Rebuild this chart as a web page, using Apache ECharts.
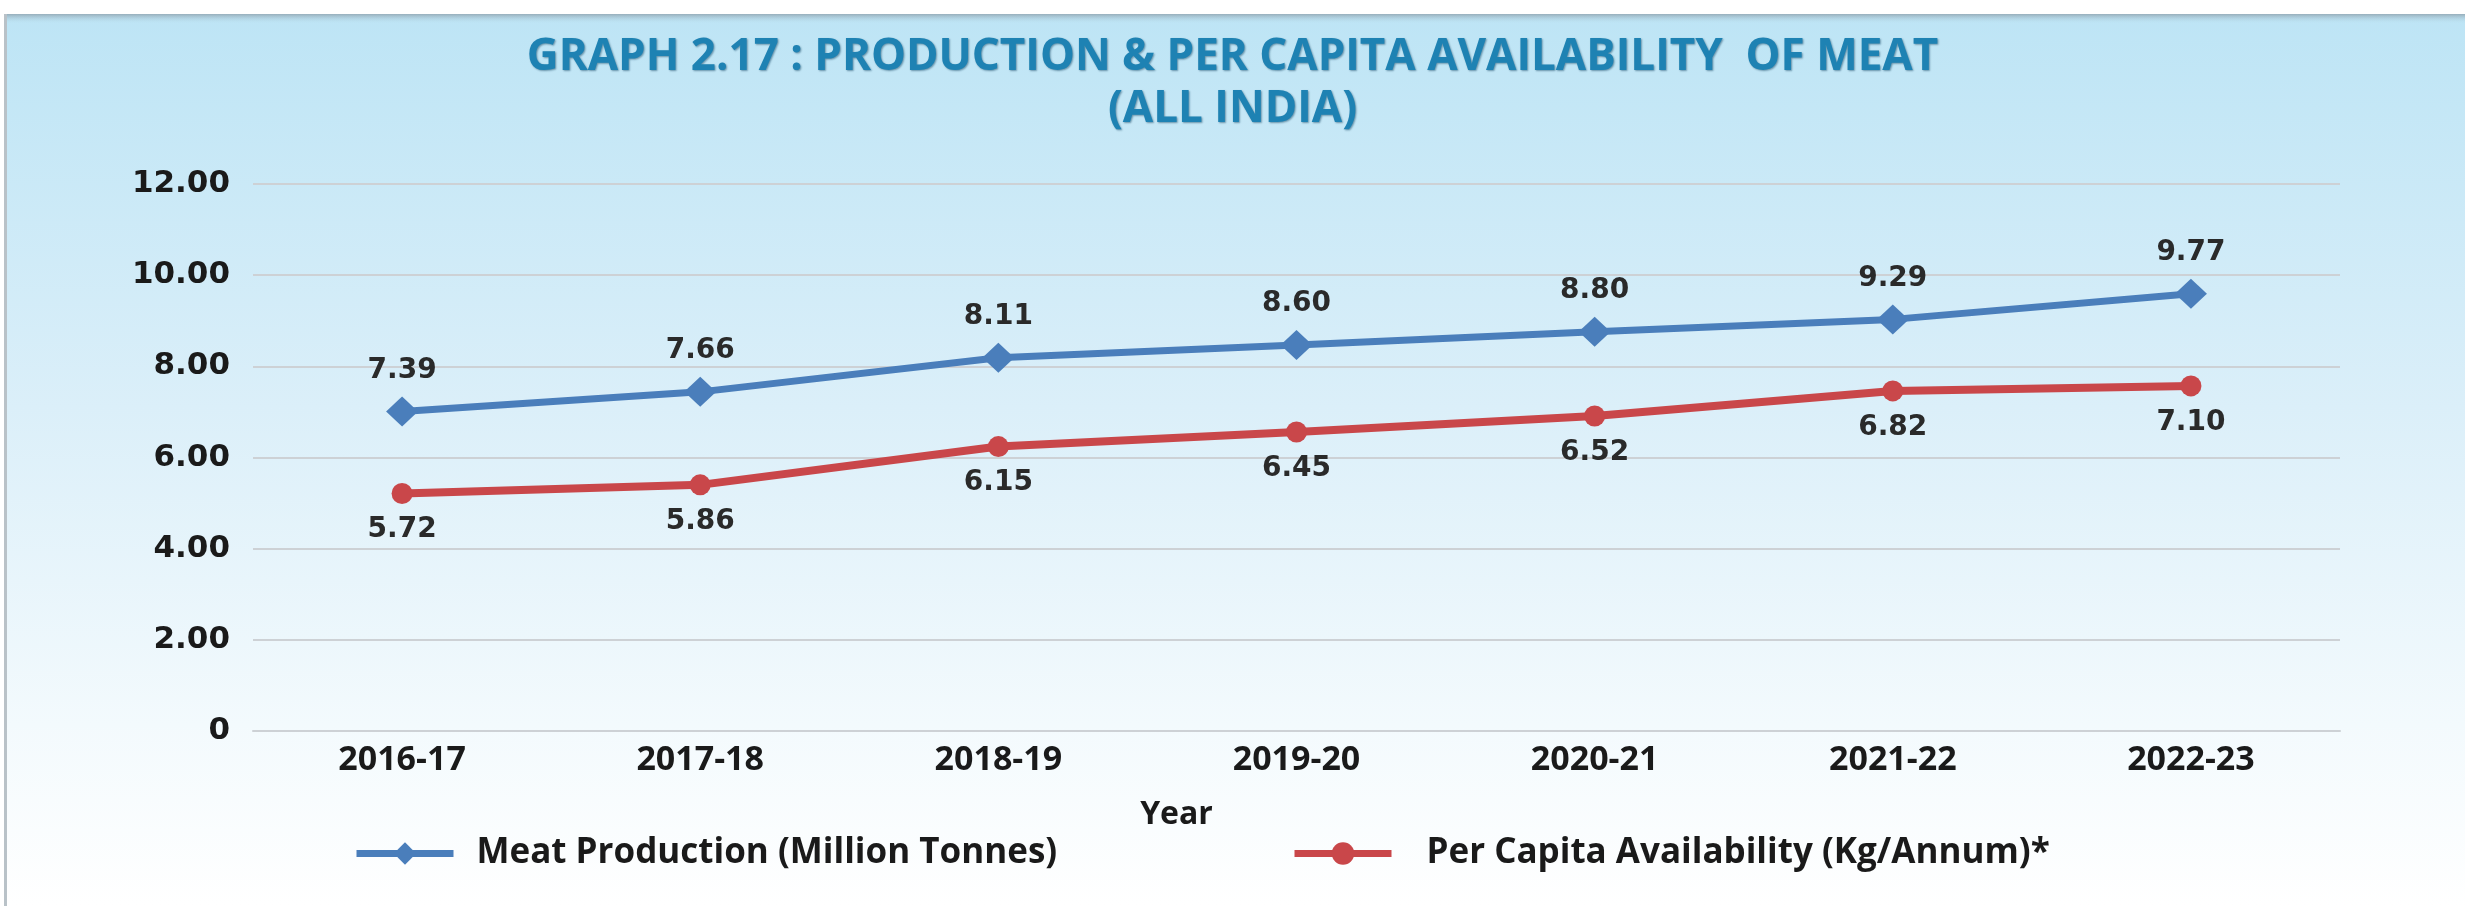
<!DOCTYPE html>
<html>
<head>
<meta charset="utf-8">
<script src="https://cdn.jsdelivr.net/npm/echarts@6/dist/echarts.min.js"></script>
<style>
html,body{margin:0;padding:0;background:#ffffff;}
#chart{width:2465px;height:906px;}
</style>
</head>
<body>
<div id="chart"></div>
<script>
// Categories (years)
const years = ['2016-17','2017-18','2018-19','2019-20','2020-21','2021-22','2022-23'];
// Plotted positions as drawn in the picture
const meatProduction = [7.01, 7.44, 8.19, 8.47, 8.76, 9.03, 9.59];
const perCapita = [5.21, 5.40, 6.24, 6.56, 6.91, 7.46, 7.57];
// Data label texts printed on the picture
const meatProductionLabels = ['7.39','7.66','8.11','8.60','8.80','9.29','9.77'];
const perCapitaLabels = ['5.72','5.86','6.15','6.45','6.52','6.82','7.10'];
// Y tick labels
const yTicks = ['0','2.00','4.00','6.00','8.00','10.00','12.00'];
const seriesNames = ['Meat Production (Million Tonnes)', 'Per Capita Availability (Kg/Annum)*'];

const chart = echarts.init(document.getElementById('chart'), null, {renderer:'canvas'});
const option = {
  backgroundColor: {
    type:'linear', x:0, y:0, x2:0, y2:1,
    colorStops:[
      {offset:0, color:'#bce4f5'},
      {offset:0.45, color:'#dbeff9'},
      {offset:0.8, color:'#f3fafd'},
      {offset:1, color:'#ffffff'}
    ]
  },
  graphic: [
    {type:'rect', left:0, top:0, shape:{width:2465, height:14}, style:{fill:'#ffffff'}, z:-1},
    {type:'rect', left:0, top:14, shape:{width:2465, height:10},
      style:{fill:{type:'linear',x:0,y:0,x2:0,y2:1,colorStops:[{offset:0,color:'rgba(120,130,140,0.55)'},{offset:1,color:'rgba(190,229,245,0)'}]}}, z:-1},
    {type:'rect', left:4, top:14, shape:{width:3, height:892}, style:{fill:'#b9c2c8'}, z:-1},
    {type:'rect', left:0, top:0, shape:{width:4, height:906}, style:{fill:'#ffffff'}, z:-1}
  ],
  title: {
    text: 'GRAPH 2.17 : PRODUCTION & PER CAPITA AVAILABILITY  OF MEAT\n(ALL INDIA)',
    left: 'center',
    top: 26,
    textStyle: {
      fontFamily: 'Open Sans',
      fontWeight: 'bold',
      fontSize: 44,
      lineHeight: 52,
      color: '#1e82b3',
      textShadowColor: 'rgba(10,60,90,0.5)',
      textShadowBlur: 2,
      textShadowOffsetX: 1,
      textShadowOffsetY: 1
    }
  },
  legend: [
    {
      data: [seriesNames[0]],
      left: 348, top: 831,
      itemWidth: 97, itemHeight: 28,
      lineStyle: {width: 7},
      textStyle: {fontFamily:'Open Sans', fontWeight:'bold', fontSize:35, color:'#1a1a1a', padding:[0,0,0,18]}
    },
    {
      data: [seriesNames[1]],
      left: 1286, top: 831,
      itemWidth: 97, itemHeight: 28,
      lineStyle: {width: 7},
      textStyle: {fontFamily:'Open Sans', fontWeight:'bold', fontSize:35, color:'#1a1a1a', padding:[0,0,0,30]}
    }
  ],
  grid: {left: 253, right: 125, top: 184, bottom: 906-731, containLabel:false},
  xAxis: {
    type: 'category',
    data: years,
    boundaryGap: true,
    axisLine: {show: true, lineStyle: {color:'#cdd1d5', width: 2}},
    axisTick: {show:false},
    axisLabel: {fontFamily:'Open Sans', fontWeight:'bold', fontSize:34, color:'#1a1a1a', margin:12},
    name: 'Year',
    nameLocation: 'middle',
    nameGap: 68,
    nameTextStyle: {fontFamily:'Open Sans', fontWeight:'bold', fontSize:32, color:'#1a1a1a', padding:[0,240,0,0]}
  },
  yAxis: {
    type: 'value',
    min: 0, max: 12, interval: 2,
    axisLine: {show:false},
    axisTick: {show:false},
    splitLine: {lineStyle: {color:'#cdd1d5', width: 2}},
    axisLabel: {
      fontFamily:'DejaVu Sans', fontWeight:'bold', fontSize:31, color:'#1a1a1a', margin:23,
      formatter: function(v){ return yTicks[Math.round(v/2)]; }
    }
  },
  series: [
    {
      name: seriesNames[0],
      type: 'line',
      data: meatProduction,
      symbol: 'diamond',
      symbolSize: [32, 30],
      lineStyle: {color:'#4a7ebb', width: 7},
      itemStyle: {color:'#4a7ebb'},
      label: {
        show: true, position: 'top', distance: 12,
        fontFamily:'DejaVu Sans', fontWeight:'bold', fontSize:28, color:'#2a2a2a',
        formatter: function(p){ return meatProductionLabels[p.dataIndex]; }
      },
      z: 3
    },
    {
      name: seriesNames[1],
      type: 'line',
      data: perCapita,
      symbol: 'circle',
      symbolSize: 21,
      lineStyle: {color:'#c9474a', width: 8},
      itemStyle: {color:'#c9474a'},
      label: {
        show: true, position: 'bottom', distance: 12,
        fontFamily:'DejaVu Sans', fontWeight:'bold', fontSize:28, color:'#2a2a2a',
        formatter: function(p){ return perCapitaLabels[p.dataIndex]; }
      },
      z: 2
    }
  ],
  animation: false
};
chart.setOption(option);
</script>
</body>
</html>
